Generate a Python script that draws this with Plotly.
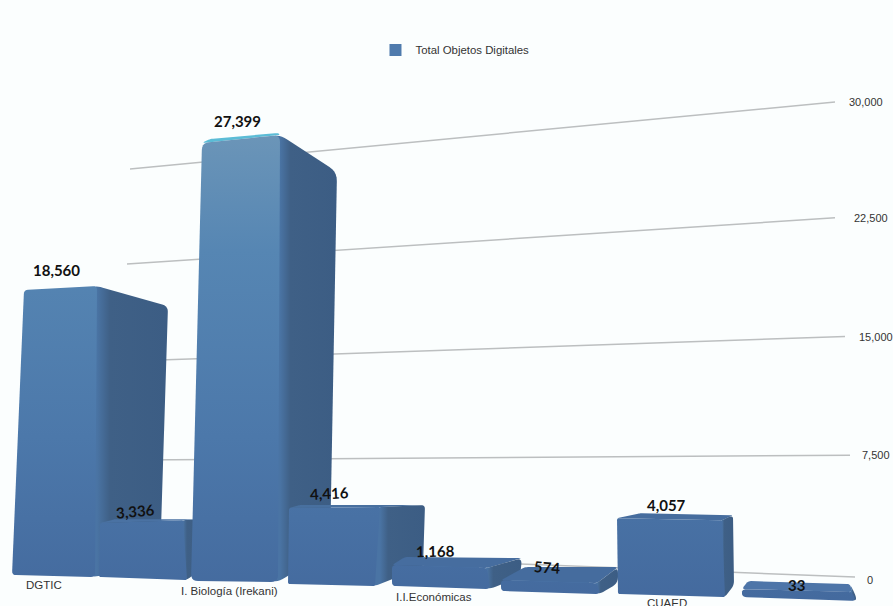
import plotly.graph_objects as go

# ---------- data ----------
categories = ["DGTIC", "", "I. Biología (Irekani)", "", "I.I.Económicas", "", "CUAED", ""]
values = [18560, 3336, 27399, 4416, 1168, 574, 4057, 33]
series_name = "Total Objetos Digitales"
tick_values = [0, 7500, 15000, 22500, 30000]

# ---------- pseudo-3D projection settings (pixels of the 893x606 stage) ----------
K = 0.01583      # px per value unit on the back wall's right end
Y0 = 577         # pixel row of value 0 at the right end
def to_y(px):
    return (Y0 - px) / K

x0s    = [12, 99, 191, 288, 392, 501, 618, 742]
wids   = [83, 88, 87, 87, 98, 99, 107, 114]
lean_l = [12, 1, 11, 1, 0, 0, -1, 0]
lean_r = [2, -4, 2, 5, -3, -3, -3, -4]
floors = [575, 577, 581, 584, 586, 591, 594, 597]
skew   = [2, 3, 1, 2, 3, 3, 3, 4]
crown  = [4, 3, 8, 1, -3, -3, -2, -3]
gain   = [0.97, 1.02, 1.01, 1.087, 1.136, 1.2, 1.18, 1.0]
min_h  = [0, 0, 0, 0, 0, 0, 0, 8]
far_top = [(71, 20), (22, -1), (57, 37), (45, -2), (35, -10), (21, -16), (11, -5), (-2, -8)]
far_bot = [(65, -17), (18, -15), (52, -32), (48, -19), (30, -12), (18, -11), (9, -12), (0, -5)]
top_back = [None, (15, -4), (8, -4), (11, -3), (13, -8), (24, -13), (23, -5), (6, -8)]
top_end = [None, None, (-2, -2), None, None, None, None, None]
radius = [4, 2, 7, 2, 4, 4, 2, 5]
top_colors = ["#4a73a6", "#4a72a3", "#5bbcd6", "#48709f", "#466d9f", "#456c9e", "#466d9e", "#4d75a8"]

label_x = [56, 135, 237, 329, 435, 547, 666, 796]
label_dy = [-20, -12, -22, -15, -14, -13, -13, -4]   # pixels above the bar's top
label_tilt = [0, -5, 0, -3, -1, 4, 0, 0]
name_xy = [(44, 585), None, (229, 591), None, (434, 597), None, (667, 603), None]
tick_label_x = [870, 876, 876, 871, 866]
wall_left_x = [130, 130, 130, 127, 130]
wall_left_bias = [0, 6, 2, 0, 0]
wall_right_x = [855, 850, 845, 835, 835]
wall_bow = [0, 190, 190, 190, 0]

def rounded(points, r):
    """Round polygon corners; works in pixel space."""
    out = []
    n = len(points)
    for i in range(n):
        p, q, s = points[i - 1], points[i], points[(i + 1) % n]
        d1 = ((q[0]-p[0])**2 + (q[1]-p[1])**2) ** 0.5 or 1
        d2 = ((s[0]-q[0])**2 + (s[1]-q[1])**2) ** 0.5 or 1
        r1, r2 = min(r, d1 * 0.45), min(r, d2 * 0.45)
        a = (q[0] + (p[0]-q[0]) * r1 / d1, q[1] + (p[1]-q[1]) * r1 / d1)
        b = (q[0] + (s[0]-q[0]) * r2 / d2, q[1] + (s[1]-q[1]) * r2 / d2)
        for k in range(6):
            t = k / 5
            out.append(((1-t)**2*a[0] + 2*t*(1-t)*q[0] + t*t*b[0],
                        (1-t)**2*a[1] + 2*t*(1-t)*q[1] + t*t*b[1]))
    return out

def poly_trace(pts, r, **kw):
    pts = rounded(pts, r)
    xs = [p[0] for p in pts] + [pts[0][0]]
    ys = [to_y(p[1]) for p in pts] + [to_y(pts[0][1])]
    return go.Scatter(x=xs, y=ys, mode="none", fill="toself", showlegend=False,
                      hoverinfo="skip", **kw)

fig = go.Figure()

# bars through the library's bar trace (inset, shaded faces drawn over them)
inner_l = [x0s[i] + max(lean_l[i], 0) + 8 for i in range(8)]
inner_r = [x0s[i] + wids[i] + min(lean_r[i], 0) - 8 for i in range(8)]
fig.add_trace(go.Bar(
    x=[(inner_l[i] + inner_r[i]) / 2 for i in range(8)],
    y=[values[i] * gain[i] * 0.9 for i in range(8)],
    base=[to_y(f - 1) for f in floors],
    width=[inner_r[i] - inner_l[i] for i in range(8)],
    name=series_name,
    marker=dict(color="#4f7bad", line=dict(width=0)),
    customdata=values,
    hovertemplate="%{customdata:,}<extra></extra>",
))

# back wall gridlines: fan-shaped, value-driven
left_px_zero, left_k = 549, 0.01267
for j, v in enumerate(tick_values):
    fig.add_trace(go.Scatter(
        x=[wall_left_x[j], wall_right_x[j]],
        y=[to_y(left_px_zero - v * left_k + wall_left_bias[j]), v + wall_bow[j]],
        mode="lines", line=dict(color="#bcbfc0", width=1.5),
        showlegend=False, hoverinfo="skip"))

front_scale = [[0, "#446a9e"], [0.35, "#4c78aa"], [0.75, "#5686b3"], [1, "#6b95b8"]]
side_scale = [[0, "#4a74a4"], [0.18, "#3f6086"], [1, "#3c5d84"]]

tops = []
for i, v in enumerate(values):
    xb0, xb1 = x0s[i], x0s[i] + wids[i]
    yb0, yb1 = floors[i], floors[i] + skew[i]
    h = max(v * gain[i] * K, min_h[i])
    ytl = yb0 - h
    ytr = ytl - crown[i]
    xtl, xtr = xb0 + lean_l[i], xb1 + lean_r[i]
    tops.append(ytl)
    ft = (xtr + far_top[i][0], ytr + far_top[i][1])
    fb = (xb1 + far_bot[i][0], yb1 + far_bot[i][1])
    # top face
    if top_back[i]:
        tb = (xtl + top_back[i][0], ytl + top_back[i][1])
        te = (xtr + top_end[i][0], ytr + top_end[i][1]) if top_end[i] else ft
        fig.add_trace(poly_trace([(xtl, ytl), tb, te, (xtr, ytr)], min(radius[i], 3),
                                 fillcolor=top_colors[i]))
    # side face (reaches a little behind the front face so that no seam shows)
    lap = min(radius[i] + 4, 10)
    fig.add_trace(poly_trace([(xtr - lap, ytr + 2), (xtr, ytr), ft, fb, (xb1, yb1), (xb1 - lap, yb1 - 2)],
                             radius[i] + 2,
                             fillgradient=dict(type="horizontal", colorscale=side_scale,
                                               start=xtr, stop=max(ft[0], fb[0]))))
    # front face
    fig.add_trace(poly_trace([(xtl, ytl), (xtr, ytr), (xb1, yb1), (xb0, yb0)], radius[i],
                             fillgradient=dict(type="vertical", colorscale=front_scale,
                                               start=to_y(600), stop=to_y(135))))

annotations = []
for i, v in enumerate(values):
    annotations.append(dict(
        x=label_x[i], y=to_y(tops[i]), yshift=-label_dy[i], text=f"{v:,}", showarrow=False,
        textangle=label_tilt[i], font=dict(family="Lato", size=15, color="#111111", weight=700)))
    if name_xy[i]:
        annotations.append(dict(
            x=name_xy[i][0], y=to_y(name_xy[i][1]), text=categories[i], showarrow=False,
            font=dict(family="Liberation Sans", size=11.5, color="#333333")))
for j, v in enumerate(tick_values):
    annotations.append(dict(
        x=tick_label_x[j], y=v + wall_bow[j], yshift=-3 if v == 0 else 0, text=f"{v:,}", showarrow=False,
        font=dict(family="Liberation Sans", size=11, color="#333333")))

fig.update_layout(
    width=893, height=606, margin=dict(l=0, r=0, t=0, b=0),
    paper_bgcolor="#fbfefe", plot_bgcolor="#fbfefe",
    xaxis=dict(range=[0, 893], visible=False, fixedrange=True),
    yaxis=dict(range=[to_y(606), to_y(0)], visible=False, fixedrange=True),
    barmode="overlay",
    showlegend=True,
    legend=dict(x=0.5095, xanchor="center", y=0.9175, yanchor="middle", orientation="h",
                bgcolor="rgba(0,0,0,0)",
                font=dict(family="Liberation Sans", size=11.4, color="#333333")),
    annotations=annotations,
)
fig.write_html("out.html", config=dict(displayModeBar=False),
               post_script="document.body.style.margin='0';document.body.style.overflow='hidden';")
